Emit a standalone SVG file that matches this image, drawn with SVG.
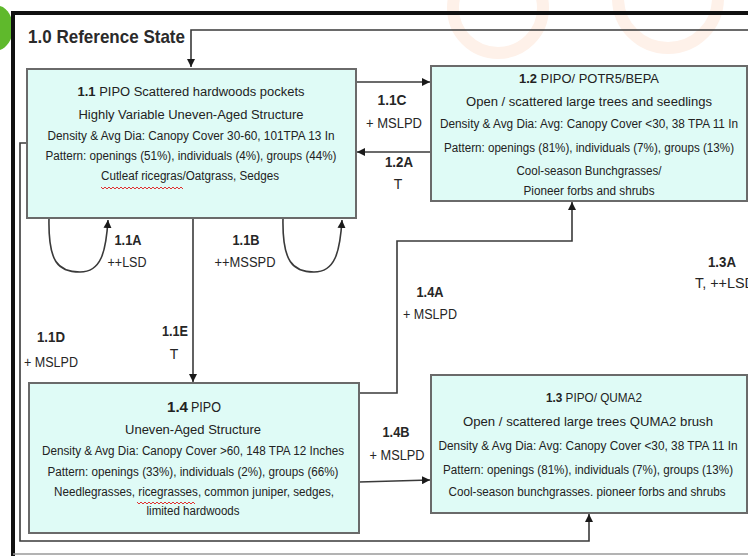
<svg xmlns="http://www.w3.org/2000/svg" width="748" height="556" viewBox="0 0 748 556">
<style>
.bg{fill:#ffffff}
.box{fill:#dffbf6;stroke:#6a6a6a;stroke-width:2}
.t{font-family:"Liberation Sans",Arial,sans-serif;font-size:12.5px;fill:#222222;text-anchor:middle}
.b{font-weight:bold}
.lbl{font-family:"Liberation Sans",Arial,sans-serif;font-size:14px;fill:#262626;text-anchor:middle}
.conn{fill:none;stroke:#3a3a3a;stroke-width:1.6}
.squig{fill:none;stroke:#e03030;stroke-width:1}
.wm{fill:none;stroke:#fef1e9;stroke-width:12}
</style>
<defs>
<marker id="ah" viewBox="0 0 10 10" refX="10" refY="5" markerWidth="8" markerHeight="8" markerUnits="userSpaceOnUse" orient="auto">
<path d="M0,0 L10,5 L0,10 Z" fill="#1a1a1a"/>
</marker>
</defs>
<rect class="bg" x="0" y="0" width="748" height="556"/>
<g id="watermark">
<circle class="wm" cx="498" cy="8" r="45"/>
<circle class="wm" cx="668" cy="-2" r="50"/>
<path d="M0,6 C8,8 13,18 13,28 C13,40 6,48 0,50 Z" fill="#5fb92c"/>
</g>
<g id="frame">
<path d="M13,556 L13,13 L748,13" fill="none" stroke="#111" stroke-width="4"/>
<line x1="13" y1="554" x2="748" y2="554" stroke="#9a9a9a" stroke-width="1.5"/>
<text x="28" y="43" font-family="'Liberation Sans',Arial,sans-serif" font-size="19" font-weight="bold" fill="#2a2a2a" textLength="157" lengthAdjust="spacingAndGlyphs">1.0 Reference State</text>
</g>
<g id="connectors">
<path class="conn" d="M748,30 L191,30 L191,67" marker-end="url(#ah)"/>
<line class="conn" x1="356" y1="82" x2="430" y2="82" marker-end="url(#ah)"/>
<line class="conn" x1="431" y1="152" x2="357" y2="152" marker-end="url(#ah)"/>
<path class="conn" d="M49,218 C48,262 58,272 80,272 C101,272 106,252 108,220" marker-end="url(#ah)"/>
<path class="conn" d="M283,218 C282,262 293,272 314,272 C335,272 340,252 342,220" marker-end="url(#ah)"/>
<line class="conn" x1="193" y1="218" x2="193" y2="382" marker-end="url(#ah)"/>
<path class="conn" d="M27,143 L20,143 L20,541 L589,541 L589,514" marker-end="url(#ah)"/>
<path class="conn" d="M359,393 L397,393 L397,241 L572,241 L572,202" marker-end="url(#ah)"/>
<line class="conn" x1="359" y1="482" x2="430" y2="480" marker-end="url(#ah)"/>
<text class="lbl b" x="392" y="105" textLength="29" lengthAdjust="spacingAndGlyphs">1.1C</text>
<text class="lbl" x="394" y="128" textLength="56" lengthAdjust="spacingAndGlyphs">+ MSLPD</text>
<text class="lbl b" x="399" y="167" textLength="28" lengthAdjust="spacingAndGlyphs">1.2A</text>
<text class="lbl" x="398" y="189">T</text>
<text class="lbl b" x="128" y="245" textLength="27" lengthAdjust="spacingAndGlyphs">1.1A</text>
<text class="lbl" x="127" y="267" textLength="39" lengthAdjust="spacingAndGlyphs">++LSD</text>
<text class="lbl b" x="246" y="245" textLength="27" lengthAdjust="spacingAndGlyphs">1.1B</text>
<text class="lbl" x="245" y="267" textLength="61" lengthAdjust="spacingAndGlyphs">++MSSPD</text>
<text class="lbl b" x="175" y="336" textLength="26" lengthAdjust="spacingAndGlyphs">1.1E</text>
<text class="lbl" x="174" y="359">T</text>
<text class="lbl b" x="51" y="342" textLength="28" lengthAdjust="spacingAndGlyphs">1.1D</text>
<text class="lbl" x="51" y="367" textLength="54" lengthAdjust="spacingAndGlyphs">+ MSLPD</text>
<text class="lbl b" x="430" y="297" textLength="27" lengthAdjust="spacingAndGlyphs">1.4A</text>
<text class="lbl" x="430" y="319" textLength="54" lengthAdjust="spacingAndGlyphs">+ MSLPD</text>
<text class="lbl b" x="396" y="437" textLength="27" lengthAdjust="spacingAndGlyphs">1.4B</text>
<text class="lbl" x="397" y="460" textLength="55" lengthAdjust="spacingAndGlyphs">+ MSLPD</text>
<text class="lbl b" x="722" y="267" textLength="28" lengthAdjust="spacingAndGlyphs">1.3A</text>
<text class="lbl" x="695" y="288" style="text-anchor:start" textLength="60" lengthAdjust="spacingAndGlyphs">T, ++LSD</text>
</g>
<g id="n11">
<rect class="box" x="27" y="69" width="329" height="149"/>
<text class="t" x="191" y="96" textLength="227" lengthAdjust="spacingAndGlyphs"><tspan class="b">1.1</tspan> PIPO Scattered hardwoods pockets</text>
<text class="t" x="191" y="119" textLength="225" lengthAdjust="spacingAndGlyphs">Highly Variable Uneven-Aged Structure</text>
<text class="t" x="191" y="140" textLength="287" lengthAdjust="spacingAndGlyphs">Density &amp; Avg Dia: Canopy Cover 30-60, 101TPA 13 In</text>
<text class="t" x="191" y="160" textLength="291" lengthAdjust="spacingAndGlyphs">Pattern: openings (51%), individuals (4%), groups (44%)</text>
<text class="t" x="190" y="180" textLength="178" lengthAdjust="spacingAndGlyphs">Cutleaf ricegras/Oatgrass, Sedges</text>
<path class="squig" d="M101,187 l2,2 l2,-2 l2,2 l2,-2 l2,2 l2,-2 l2,2 l2,-2 l2,2 l2,-2 l2,2 l2,-2 l2,2 l2,-2 l2,2 l2,-2 l2,2 l2,-2 l2,2 l2,-2 l2,2 l2,-2 l2,2 l2,-2 l2,2 l2,-2 l2,2 l2,-2 l2,2 l2,-2 l2,2 l2,-2 l2,2 l2,-2 l2,2 l2,-2 l2,2 l2,-2 l2,2 l2,-2 l2,2"/>
</g>
<g id="n12">
<rect class="box" x="431" y="66" width="316" height="135"/>
<text class="t" x="589" y="83" textLength="140" lengthAdjust="spacingAndGlyphs"><tspan class="b">1.2</tspan> PIPO/ POTR5/BEPA</text>
<text class="t" x="589" y="106" textLength="246" lengthAdjust="spacingAndGlyphs">Open / scattered large trees and seedlings</text>
<text class="t" x="589" y="128" textLength="298" lengthAdjust="spacingAndGlyphs">Density &amp; Avg Dia: Avg: Canopy Cover &lt;30, 38 TPA 11 In</text>
<text class="t" x="589" y="152" textLength="290" lengthAdjust="spacingAndGlyphs">Pattern: openings (81%), individuals (7%), groups (13%)</text>
<text class="t" x="589" y="175" textLength="145" lengthAdjust="spacingAndGlyphs">Cool-season Bunchgrasses/</text>
<text class="t" x="589" y="195" textLength="131" lengthAdjust="spacingAndGlyphs">Pioneer forbs and shrubs</text>
</g>
<g id="n14">
<rect class="box" x="29" y="383" width="330" height="150"/>
<text class="t b" x="167" y="412" style="font-size:15px;text-anchor:start" textLength="21" lengthAdjust="spacingAndGlyphs">1.4</text>
<text class="t" x="191" y="412" style="font-size:15px;text-anchor:start" textLength="30" lengthAdjust="spacingAndGlyphs">PIPO</text>
<text class="t" x="193" y="434" textLength="136" lengthAdjust="spacingAndGlyphs">Uneven-Aged Structure</text>
<text class="t" x="193" y="455" textLength="302" lengthAdjust="spacingAndGlyphs">Density &amp; Avg Dia: Canopy Cover &gt;60, 148 TPA 12 Inches</text>
<text class="t" x="193" y="476" textLength="291" lengthAdjust="spacingAndGlyphs">Pattern: openings (33%), individuals (2%), groups (66%)</text>
<text class="t" x="194" y="496" textLength="280" lengthAdjust="spacingAndGlyphs">Needlegrasses, ricegrasses, common juniper, sedges,</text>
<text class="t" x="193" y="515" textLength="93" lengthAdjust="spacingAndGlyphs">limited hardwoods</text>
<path class="squig" d="M137,502 l2,2 l2,-2 l2,2 l2,-2 l2,2 l2,-2 l2,2 l2,-2 l2,2 l2,-2 l2,2 l2,-2 l2,2 l2,-2 l2,2 l2,-2 l2,2 l2,-2 l2,2 l2,-2 l2,2 l2,-2 l2,2 l2,-2 l2,2 l2,-2 l2,2 l2,-2 l2,2"/>
</g>
<g id="n13">
<rect class="box" x="431" y="375" width="316" height="138"/>
<text class="t" x="594" y="402" textLength="96" lengthAdjust="spacingAndGlyphs"><tspan class="b">1.3</tspan> PIPO/ QUMA2</text>
<text class="t" x="588" y="426" textLength="250" lengthAdjust="spacingAndGlyphs">Open / scattered large trees QUMA2 brush</text>
<text class="t" x="588" y="450" textLength="299" lengthAdjust="spacingAndGlyphs">Density &amp; Avg Dia: Avg: Canopy Cover &lt;30, 38 TPA 11 In</text>
<text class="t" x="588" y="474" textLength="290" lengthAdjust="spacingAndGlyphs">Pattern: openings (81%), individuals (7%), groups (13%)</text>
<text class="t" x="587" y="496" textLength="277" lengthAdjust="spacingAndGlyphs">Cool-season bunchgrasses. pioneer forbs and shrubs</text>
</g>
</svg>
